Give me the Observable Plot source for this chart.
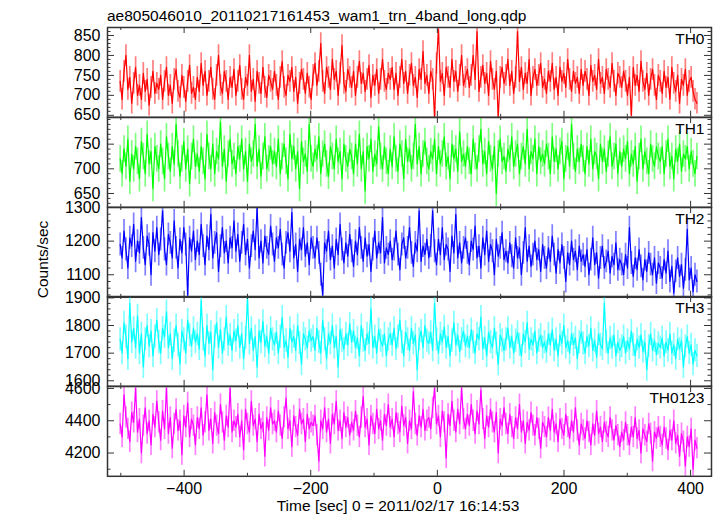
<!DOCTYPE html>
<html><head><meta charset="utf-8">
<script src="https://cdn.jsdelivr.net/npm/d3@7"></script>
<script src="https://cdn.jsdelivr.net/npm/@observablehq/plot@0.6"></script>
<style>
body{margin:0;background:#fff;}
#chart{position:relative;width:717px;height:516px;overflow:hidden;background:#fff;font-family:"Liberation Sans",Arial,sans-serif;}
#chart svg{position:absolute;left:0;overflow:visible;}
</style></head>
<body><div id="chart"></div>
<script>
const title = "ae805046010_20110217161453_wam1_trn_4band_long.qdp";
const yLabel = "Counts/sec";
const xLabel = "Time [sec] 0 = 2011/02/17 16:14:53";
const seriesNames = ["TH0","TH1","TH2","TH3","TH0123"];
const seriesColors = ["#ff0000","#00ff00","#0000ff","#00ffff","#ff00ff"];
const seriesErrors = [27,27,34,42,66];
const tStart = -501, tEnd = 410;
const xDomain = [-521, 433];
const xMajorTicks = [-400,-200,0,200,400];
const xMinorTicks = [-500,-300,-100,100,300];
const yDomains = [[645,870],[622,804],[1033,1300],[1580,1905],[4056,4612]];
const yMajorTicks = [[650,700,750,800,850],[650,700,750],[1100,1200,1300],[1600,1700,1800,1900],[4200,4400,4600]];
const yMinorSteps = [10,10,20,20,100];

const th0 = [
735,690,760,800,715,745,680,730,770,700,725,690,755,710,740,675,720,760,705,730,
715,750,690,735,770,700,725,680,740,765,710,695,750,720,685,735,775,705,720,690,
745,710,780,725,760,700,735,770,715,690,750,800,725,705,760,735,690,745,720,765,
700,735,775,715,690,745,725,800,710,740,685,760,730,705,770,720,695,750,735,715,
760,725,690,745,785,720,700,750,735,770,710,745,680,730,765,740,705,755,720,690,
750,780,725,760,830,735,705,770,745,715,790,740,760,700,755,825,730,710,765,745,
720,760,700,745,785,730,755,710,740,775,695,750,725,765,705,740,790,735,715,755,
740,770,715,755,700,745,790,730,760,705,750,780,725,745,695,765,740,810,730,750,
705,760,740,645,780,865,735,755,700,770,745,720,790,735,760,710,750,800,725,745,
765,720,750,800,740,860,710,745,775,730,755,700,785,740,715,760,645,745,770,730,
750,790,725,760,705,745,860,735,770,715,755,730,790,700,745,765,725,750,780,720,
740,705,760,735,780,715,745,700,770,735,755,720,790,740,710,760,730,745,705,765,
725,760,740,700,775,735,750,715,790,730,745,705,765,740,720,780,735,700,755,745,
720,760,735,700,745,650,770,725,750,710,785,735,715,755,700,740,765,725,690,750,
735,705,760,720,745,690,770,730,710,750,680,740,725,765,700,735,745,710,690,680];

const th1 = [
720,690,740,705,760,675,730,700,745,715,680,755,725,690,770,710,735,660,745,720,
700,750,715,680,765,725,695,745,710,790,730,685,720,755,700,740,670,725,760,705,
730,695,745,715,680,770,725,700,750,690,735,720,795,705,740,675,730,760,710,725,
690,745,720,760,700,735,675,750,715,730,790,705,740,685,725,765,700,720,745,710,
735,705,760,690,725,750,715,680,770,720,745,700,735,660,755,715,730,695,790,720,
705,740,720,765,690,730,750,710,685,745,725,700,760,715,735,680,750,720,705,740,
725,690,750,710,770,700,735,655,745,720,760,695,730,710,785,725,700,745,715,690,
740,705,765,720,695,750,730,680,760,715,740,700,725,790,710,745,690,730,755,715,
700,735,720,760,690,745,710,730,765,705,725,680,750,720,740,695,775,715,730,705,
745,715,690,760,725,700,740,780,710,735,690,755,720,700,745,650,730,760,715,725,
695,740,720,765,705,730,750,690,725,745,710,780,700,735,720,760,690,745,715,730,
710,750,725,690,765,715,740,700,735,755,680,720,745,705,790,725,695,740,715,750,
720,690,745,710,760,700,735,725,680,750,715,740,695,730,765,705,725,750,690,735,
705,740,720,755,690,730,710,745,675,725,760,700,735,715,690,750,720,705,745,725,
715,745,690,730,760,705,725,680,740,715,750,695,730,720,745,700,735,710,690,725];

const th2 = [
1190,1150,1230,1175,1120,1210,1185,1250,1140,1200,1165,1270,1180,1130,1215,1190,1100,1225,1170,1240,
1160,1205,1290,1175,1130,1220,1195,1150,1260,1180,1120,1205,1165,1240,1190,1040,1210,1170,1230,1145,
1200,1160,1250,1185,1130,1215,1175,1280,1150,1195,1225,1110,1185,1240,1165,1200,1135,1210,1180,1260,
1170,1220,1140,1195,1250,1160,1205,1120,1185,1230,1175,1300,1150,1200,1135,1215,1180,1160,1245,1190,
1140,1210,1180,1235,1160,1120,1195,1225,1170,1285,1150,1190,1110,1205,1175,1240,1155,1195,1130,1210,
1180,1150,1210,1165,1100,1040,1195,1170,1230,1145,1185,1120,1205,1160,1250,1175,1135,1195,1155,1220,
1170,1125,1200,1160,1240,1180,1140,1210,1155,1190,1110,1175,1230,1150,1195,1165,1270,1135,1180,1160,
1200,1145,1175,1230,1160,1115,1190,1210,1150,1180,1240,1165,1125,1195,1170,1290,1140,1185,1160,1205,
1150,1185,1290,1170,1130,1205,1160,1240,1145,1190,1175,1110,1215,1165,1280,1150,1195,1135,1180,1210,
1165,1130,1200,1175,1245,1150,1185,1120,1210,1160,1230,1140,1190,1170,1100,1205,1155,1180,1225,1145,
1170,1135,1195,1155,1120,1210,1150,1180,1100,1165,1240,1140,1185,1125,1160,1200,1145,1175,1110,1190,
1150,1120,1180,1140,1215,1160,1105,1175,1135,1190,1150,1080,1165,1130,1200,1145,1170,1115,1185,1140,
1160,1125,1175,1100,1145,1210,1130,1165,1090,1150,1185,1120,1140,1170,1105,1155,1130,1195,1115,1145,
1130,1100,1160,1120,1240,1135,1095,1150,1115,1175,1125,1085,1145,1110,1165,1130,1100,1150,1075,1135,
1120,1090,1145,1105,1170,1080,1125,1045,1110,1150,1095,1130,1060,1115,1235,1085,1120,1050,1100,1080];

const th3 = [
1750,1700,1810,1760,1680,1880,1740,1790,1720,1835,1700,1770,1650,1750,1800,1725,1780,1690,1760,1820,
1740,1700,1790,1760,1850,1720,1770,1680,1745,1800,1730,1660,1780,1750,1700,1820,1765,1725,1790,1740,
1770,1715,1890,1750,1690,1800,1735,1775,1640,1760,1810,1720,1785,1700,1750,1830,1730,1765,1710,1780,
1745,1800,1720,1770,1680,1755,1895,1735,1790,1710,1760,1650,1780,1740,1815,1725,1760,1700,1790,1750,
1730,1775,1700,1760,1830,1720,1745,1685,1790,1740,1760,1710,1800,1735,1660,1770,1750,1720,1780,1745,
1760,1710,1790,1740,1700,1820,1750,1680,1770,1735,1800,1720,1760,1650,1785,1745,1715,1770,1730,1805,
1740,1780,1720,1755,1690,1800,1745,1710,1770,1735,1860,1720,1760,1700,1785,1745,1725,1770,1690,1750,
1770,1730,1790,1715,1760,1820,1740,1690,1775,1750,1710,1790,1735,1765,1640,1750,1780,1720,1800,1745,
1735,1775,1710,1880,1750,1700,1770,1740,1795,1720,1760,1690,1745,1810,1730,1765,1705,1750,1780,1725,
1760,1720,1785,1740,1700,1770,1750,1830,1715,1755,1690,1775,1740,1720,1790,1735,1660,1765,1745,1710,
1750,1790,1720,1760,1700,1745,1775,1730,1690,1770,1740,1810,1715,1750,1730,1780,1700,1745,1765,1720,
1740,1705,1770,1730,1785,1710,1750,1690,1765,1735,1800,1720,1745,1700,1770,1730,1755,1680,1740,1775,
1735,1700,1760,1725,1790,1710,1745,1685,1770,1730,1715,1880,1740,1700,1755,1720,1765,1690,1740,1710,
1725,1760,1700,1745,1715,1780,1730,1690,1750,1720,1765,1705,1740,1640,1725,1770,1710,1745,1695,1735,
1720,1755,1690,1740,1710,1770,1700,1730,1680,1750,1715,1745,1650,1725,1760,1700,1730,1660,1710,1690];

const th0123 = [
4380,4300,4560,4420,4350,4270,4450,4390,4600,4330,4410,4200,4370,4480,4320,4400,4250,4440,4360,4520,
4390,4280,4460,4350,4600,4320,4420,4230,4380,4470,4340,4400,4190,4430,4360,4510,4300,4410,4370,4250,
4420,4350,4480,4310,4390,4560,4340,4410,4260,4450,4370,4320,4500,4390,4280,4430,4360,4600,4330,4400,
4360,4440,4300,4400,4220,4470,4380,4330,4520,4370,4410,4270,4440,4350,4390,4180,4420,4340,4480,4380,
4400,4330,4460,4370,4290,4420,4540,4350,4400,4240,4430,4360,4310,4470,4380,4410,4270,4440,4350,4390,
4370,4430,4310,4150,4400,4350,4480,4330,4410,4260,4440,4380,4520,4340,4400,4290,4450,4360,4420,4310,
4390,4340,4460,4370,4300,4420,4550,4360,4410,4250,4430,4380,4320,4470,4350,4400,4280,4440,4370,4500,
4360,4410,4300,4450,4380,4330,4490,4370,4420,4260,4400,4350,4580,4380,4310,4430,4360,4470,4340,4400,
4420,4350,4480,4600,4380,4430,4300,4460,4390,4170,4440,4370,4520,4400,4330,4470,4380,4600,4410,4350,
4440,4370,4500,4400,4320,4460,4380,4590,4410,4290,4430,4360,4470,4390,4330,4450,4200,4410,4370,4480,
4380,4320,4440,4360,4290,4420,4350,4500,4330,4400,4260,4390,4340,4450,4370,4310,4420,4350,4230,4390,
4360,4300,4420,4340,4470,4330,4380,4270,4410,4350,4310,4440,4360,4290,4400,4330,4480,4340,4250,4380,
4340,4290,4400,4330,4250,4380,4310,4460,4320,4360,4270,4390,4330,4300,4420,4340,4280,4370,4310,4240,
4330,4280,4390,4310,4250,4360,4300,4420,4290,4340,4200,4350,4310,4270,4380,4320,4150,4330,4290,4360,
4300,4250,4360,4290,4220,4340,4280,4400,4260,4310,4180,4320,4270,4120,4300,4240,4350,4100,4280,4230];

const seriesValues = [th0, th1, th2, th3, th0123];

// layout
const W = 717, H = 516, mL = 107, mR = 6;
const frameW = W - mL - mR;
const panelTops = [27, 116.8, 206.6, 296.4, 386.2];
const panelH = 89.8;
const font = "Liberation Sans, Arial, Helvetica, sans-serif";
const axisColor = "#333";
const fmt = d3.format("d");

const chart = document.getElementById("chart");

seriesValues.forEach((vals, i) => {
  const n = vals.length;
  const data = vals.map((v, k) => ({t: tStart + k * (tEnd - tStart) / (n - 1), v}));
  const err = seriesErrors[i];
  const color = seriesColors[i];
  const last = i === seriesValues.length - 1;
  const mT = 14, mB = last ? 44 : 14;
  const dom = yDomains[i];
  const step = yMinorSteps[i];
  const yMinor = d3.range(Math.ceil(dom[0] / step) * step, dom[1] + 1e-6, step)
    .filter(v => !yMajorTicks[i].includes(v));
  const tk = {stroke: axisColor, strokeWidth: 1};
  const marks = [
    Plot.ruleX(data, {x: "t", y1: d => d.v - err, y2: d => d.v + err, stroke: color, strokeOpacity: 0.5, strokeWidth: 1.7, clip: true}),
    Plot.line(data, {x: "t", y: "v", stroke: color, strokeWidth: 1.2, clip: true}),
    // y ticks (inward, both sides)
    Plot.tickY(yMajorTicks[i], {...tk, insetRight: frameW - 7}),
    Plot.tickY(yMajorTicks[i], {...tk, insetLeft: frameW - 7}),
    Plot.tickY(yMinor, {...tk, insetRight: frameW - 3.5}),
    Plot.tickY(yMinor, {...tk, insetLeft: frameW - 3.5}),
    // x ticks (inward, top and bottom)
    Plot.tickX(xMajorTicks, {...tk, insetBottom: panelH - 6}),
    Plot.tickX(xMajorTicks, {...tk, insetTop: panelH - 6}),
    Plot.tickX(xMinorTicks, {...tk, insetBottom: panelH - 3}),
    Plot.tickX(xMinorTicks, {...tk, insetTop: panelH - 3}),
    Plot.frame({stroke: axisColor, strokeWidth: 1.5}),
    Plot.axisY({ticks: yMajorTicks[i], tickFormat: fmt, tickSize: 0, tickPadding: 7, label: null, fontSize: 16}),
    Plot.text([seriesNames[i]], {frameAnchor: "top-right", textAnchor: "end", lineAnchor: "top", dx: -7, dy: 5, fontSize: 15.5, fill: "#000"})
  ];
  if (last) marks.push(Plot.axisX({ticks: xMajorTicks, tickFormat: fmt, tickSize: 0, tickPadding: 6, label: null, fontSize: 16}));
  const p = Plot.plot({
    width: W, height: panelH + mT + mB,
    marginLeft: mL, marginRight: mR, marginTop: mT, marginBottom: mB,
    x: last ? {domain: xDomain} : {domain: xDomain, axis: null},
    y: {domain: dom},
    style: {fontFamily: font, fontSize: "16px", color: "#000", background: "transparent", overflow: "visible"},
    marks
  });
  p.style.top = (panelTops[i] - mT) + "px";
  chart.appendChild(p);
});

// overlay texts: title, y label, x label
const ns = "http://www.w3.org/2000/svg";
const ov = document.createElementNS(ns, "svg");
ov.setAttribute("width", W); ov.setAttribute("height", H);
ov.style.top = "0px"; ov.style.pointerEvents = "none";
function addText(str, attrs) {
  const t = document.createElementNS(ns, "text");
  for (const k in attrs) t.setAttribute(k, attrs[k]);
  t.setAttribute("font-family", font);
  t.setAttribute("fill", "#000");
  t.textContent = str;
  ov.appendChild(t);
}
addText(title, {x: 107, y: 20.5, "font-size": 15.5});
addText(yLabel, {transform: "translate(47.5,259.5) rotate(-90)", "text-anchor": "middle", "font-size": 15.5});
addText(xLabel, {x: 398, y: 511, "text-anchor": "middle", "font-size": 15.5});
chart.appendChild(ov);
</script>
</body></html>
